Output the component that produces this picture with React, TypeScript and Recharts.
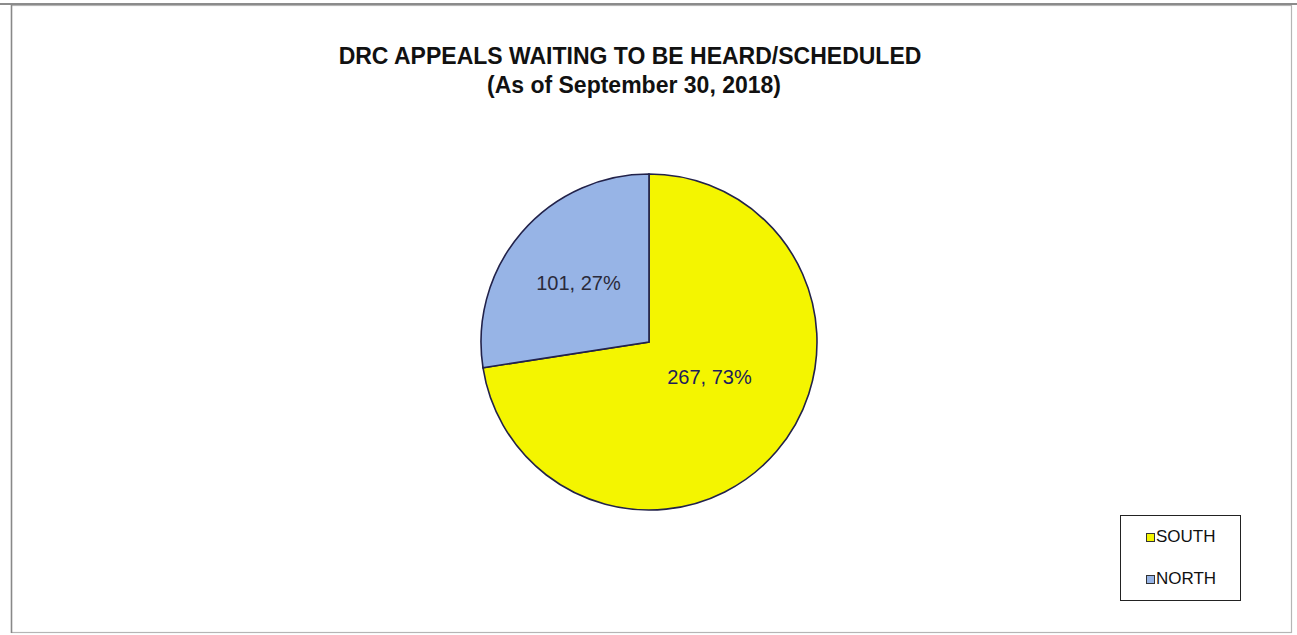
import React from "react";
import { PieChart, Pie, Cell, Legend } from "recharts";

const categories = ["SOUTH", "NORTH"];
const values = [267, 101];
const percents = ["73%", "27%"];
const colors = ["#F4F500", "#97B4E6"];

const data = categories.map((name, i) => ({ name, value: values[i], pct: percents[i] }));

const W = 1297;
const H = 635;
const CX = 649;
const CY = 342;
const R = 168;

const labelOffsets = [
  [0.36, 0.21],
  [-0.42, -0.35],
];

const renderLabel = (props: any) => {
  const { cx, cy, outerRadius, index } = props;
  const [fx, fy] = labelOffsets[index];
  const d = data[index];
  return (
    <text
      x={cx + fx * outerRadius}
      y={cy + fy * outerRadius}
      textAnchor="middle"
      dominantBaseline="central"
      fontFamily="Liberation Sans, Arial, sans-serif"
      fontSize={20}
      fill={index === 0 ? "#1d1d5a" : "#2a2a3a"}
    >
      {`${d.value}, ${d.pct}`}
    </text>
  );
};

const LegendContent = () => (
  <div
    style={{
      width: 121,
      height: 86,
      border: "1px solid #222",
      background: "#fff",
      boxSizing: "border-box",
      fontFamily: "Liberation Sans, Arial, sans-serif",
      fontSize: 17,
      color: "#111",
      paddingLeft: 25,
      paddingTop: 10,
    }}
  >
    {data.map((d, i) => (
      <div key={d.name} style={{ display: "flex", alignItems: "center", height: 22, marginBottom: i === 0 ? 20 : 0 }}>
        <span
          style={{
            display: "inline-block",
            width: 7,
            height: 7,
            background: colors[i],
            border: "1.5px solid #333",
            marginRight: 1,
          }}
        />
        <span>{d.name}</span>
      </div>
    ))}
  </div>
);

export default function App() {
  return (
    <div style={{ position: "absolute", left: 0, top: 0, width: W, height: H, background: "#fff" }}>
      <PieChart width={W} height={H} margin={{ top: 0, right: 0, bottom: 0, left: 0 }}>
        <rect x={11.5} y={5.5} width={1280} height={627} fill="none" stroke="#b5b5b5" strokeWidth={1.2} />
        <line x1={0} y1={4} x2={W} y2={4} stroke="#666" strokeWidth={1.5} />
        <line x1={11.5} y1={5} x2={11.5} y2={633} stroke="#888" strokeWidth={1.5} />
        <text
          x={630}
          y={56}
          textAnchor="middle"
          dominantBaseline="central"
          fontFamily="Liberation Sans, Arial, sans-serif"
          fontWeight="bold"
          fontSize={23}
          fill="#111"
        >
          DRC APPEALS WAITING TO BE HEARD/SCHEDULED
        </text>
        <text
          x={634}
          y={85}
          textAnchor="middle"
          dominantBaseline="central"
          fontFamily="Liberation Sans, Arial, sans-serif"
          fontWeight="bold"
          fontSize={23}
          fill="#111"
        >
          (As of September 30, 2018)
        </text>
        <Pie
          data={data}
          dataKey="value"
          nameKey="name"
          cx={CX}
          cy={CY}
          outerRadius={R}
          startAngle={90}
          endAngle={-270}
          stroke="#22224a"
          strokeWidth={1.6}
          label={renderLabel}
          labelLine={false}
          isAnimationActive={false}
        >
          {data.map((d, i) => (
            <Cell key={d.name} fill={colors[i]} />
          ))}
        </Pie>
        <Legend
          content={<LegendContent />}
          wrapperStyle={{ position: "absolute", left: 1120, top: 515, width: 121, height: 86 }}
        />
      </PieChart>
    </div>
  );
}
